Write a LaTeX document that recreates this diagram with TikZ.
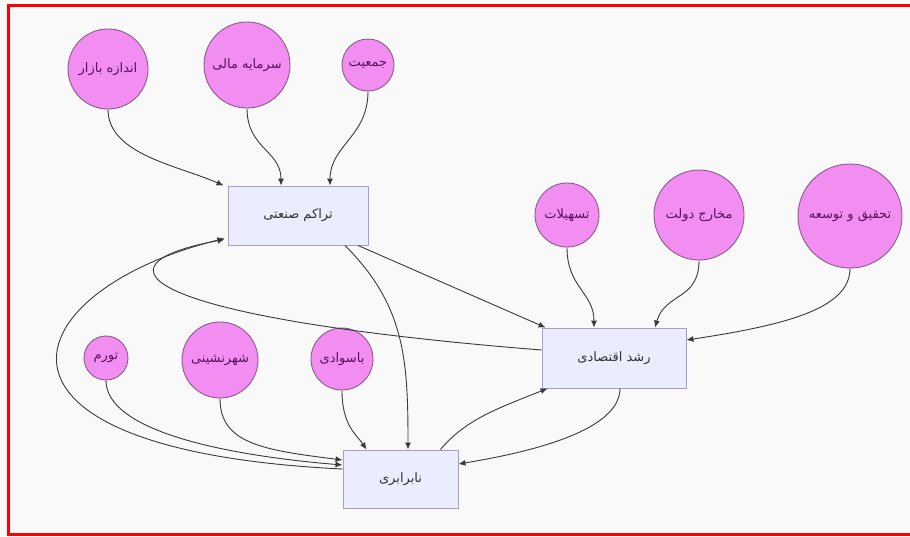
\documentclass[tikz,border=0pt]{standalone}
\usepackage{fontspec}
\newfontfamily\fa[Script=Arabic]{DejaVu Sans}
\TeXXeTstate=1
\usetikzlibrary{arrows.meta}
\definecolor{bg}{HTML}{F9F9F9}
\definecolor{cfill}{HTML}{F28EF2}
\definecolor{cdraw}{HTML}{8C5A8C}
\definecolor{ctext}{HTML}{5A1060}
\definecolor{bfill}{HTML}{ECECFF}
\definecolor{bdraw}{HTML}{A89CCB}
\definecolor{edge}{HTML}{3A3A3A}
\tikzset{
  circ/.style={circle, fill=cfill, draw=cdraw, line width=0.9pt, inner sep=0pt, text=ctext, font=\fa\fontsize{13}{15}\selectfont},
  boxn/.style={rectangle, fill=bfill, draw=bdraw, line width=0.9pt, inner sep=0pt, text=black!80, font=\fa\fontsize{13}{15}\selectfont},
  link/.style={draw=edge, line width=0.9pt, -{Latex[length=7pt,width=6pt]}}
}
\begin{document}
\begin{tikzpicture}[x=1pt,y=-1pt]
\useasboundingbox (0,0) rectangle (910,536);
\fill[bg] (0,0) rectangle (910,536);
\begin{scope}
\clip (0,0) rectangle (910,536);
\draw[red, line width=3pt] (8,5.5) rectangle (940,534.5);
\end{scope}
% circles
\node[circ, minimum size=80pt] (andaze) at (108,69) {\beginR اندازه بازار\endR};
\node[circ, minimum size=86pt] (sarmaye) at (247,65) {\beginR سرمایه مالی\endR};
\node[circ, minimum size=52pt] (jamiat) at (368,65) {\beginR جمعیت\endR};
\node[circ, minimum size=64pt] (tas) at (567,215) {\beginR تسهیلات\endR};
\node[circ, minimum size=90pt] (makh) at (699,215) {\beginR مخارج دولت\endR};
\node[circ, minimum size=104pt] (tah) at (850,216) {\beginR تحقیق و توسعه\endR};
\node[circ, minimum size=44pt] (tor) at (106,358) {\beginR تورم\endR};
\node[circ, minimum size=76pt] (shahr) at (220,360) {\beginR شهرنشینی\endR};
\node[circ, minimum size=62pt] (bas) at (342,359) {\beginR باسوادی\endR};
% boxes
\node[boxn, minimum width=140pt, minimum height=59pt] (tar) at (298,215.5) {\beginR تراکم صنعتی\endR};
\node[boxn, minimum width=144pt, minimum height=60pt] (rosh) at (614,358) {\beginR رشد اقتصادی\endR};
\node[boxn, minimum width=115pt, minimum height=58pt] (nab) at (400.5,479) {\beginR نابرابری\endR};
% edges into tar
\draw[link] (andaze.south) .. controls +(0,45) and +(-45,-20) .. ([xshift=-4pt]tar.north west);
\draw[link] (sarmaye.south) .. controls +(0,40) and +(0,-35) .. ([xshift=-17pt]tar.north);
\draw[link] (jamiat.south) .. controls +(0,45) and +(0,-40) .. ([xshift=32pt]tar.north);
% tar out
\draw[link] ([xshift=60pt]tar.south) -- ([xshift=4pt]rosh.north west);
\draw[link] ([xshift=47pt]tar.south) .. controls +(60,60) and +(0,-90) .. ([xshift=7.5pt]nab.north);
% rosh -> tar
\draw[link] ([yshift=8pt]rosh.west) .. controls (140,318) and (85,265) .. ([xshift=-3pt,yshift=6pt]tar.south west);
% nab -> tar loop
\draw[link] ([yshift=10pt]nab.west) .. controls (-50,450) and (15,290) .. ([xshift=-3pt,yshift=7pt]tar.south west);
% into nab
\draw[link] (tor.south) .. controls +(0,50) and +(-120,-10) .. ([yshift=14pt]nab.west);
\draw[link] (shahr.south) .. controls +(0,45) and +(-80,-10) .. ([yshift=19pt]nab.west);
\draw[link] (bas.south) .. controls +(0,35) and +(-10,-15) .. ([xshift=24pt]nab.north west);
\draw[link] ([xshift=6pt]rosh.south) .. controls +(0,45) and +(60,-10) .. ([yshift=15pt]nab.east);
% nab -> rosh
\draw[link] ([xshift=-18pt]nab.north east) .. controls +(25,-30) and +(-50,20) .. ([xshift=6pt]rosh.south west);
% into rosh
\draw[link] (tas.south) .. controls +(0,40) and +(0,-35) .. ([xshift=-20pt]rosh.north);
\draw[link] (makh.south) .. controls +(0,40) and +(10,-35) .. ([xshift=41pt]rosh.north);
\draw[link] (tah.south) .. controls +(0,40) and +(100,-15) .. ([yshift=18pt]rosh.east);
\end{tikzpicture}
\end{document}
